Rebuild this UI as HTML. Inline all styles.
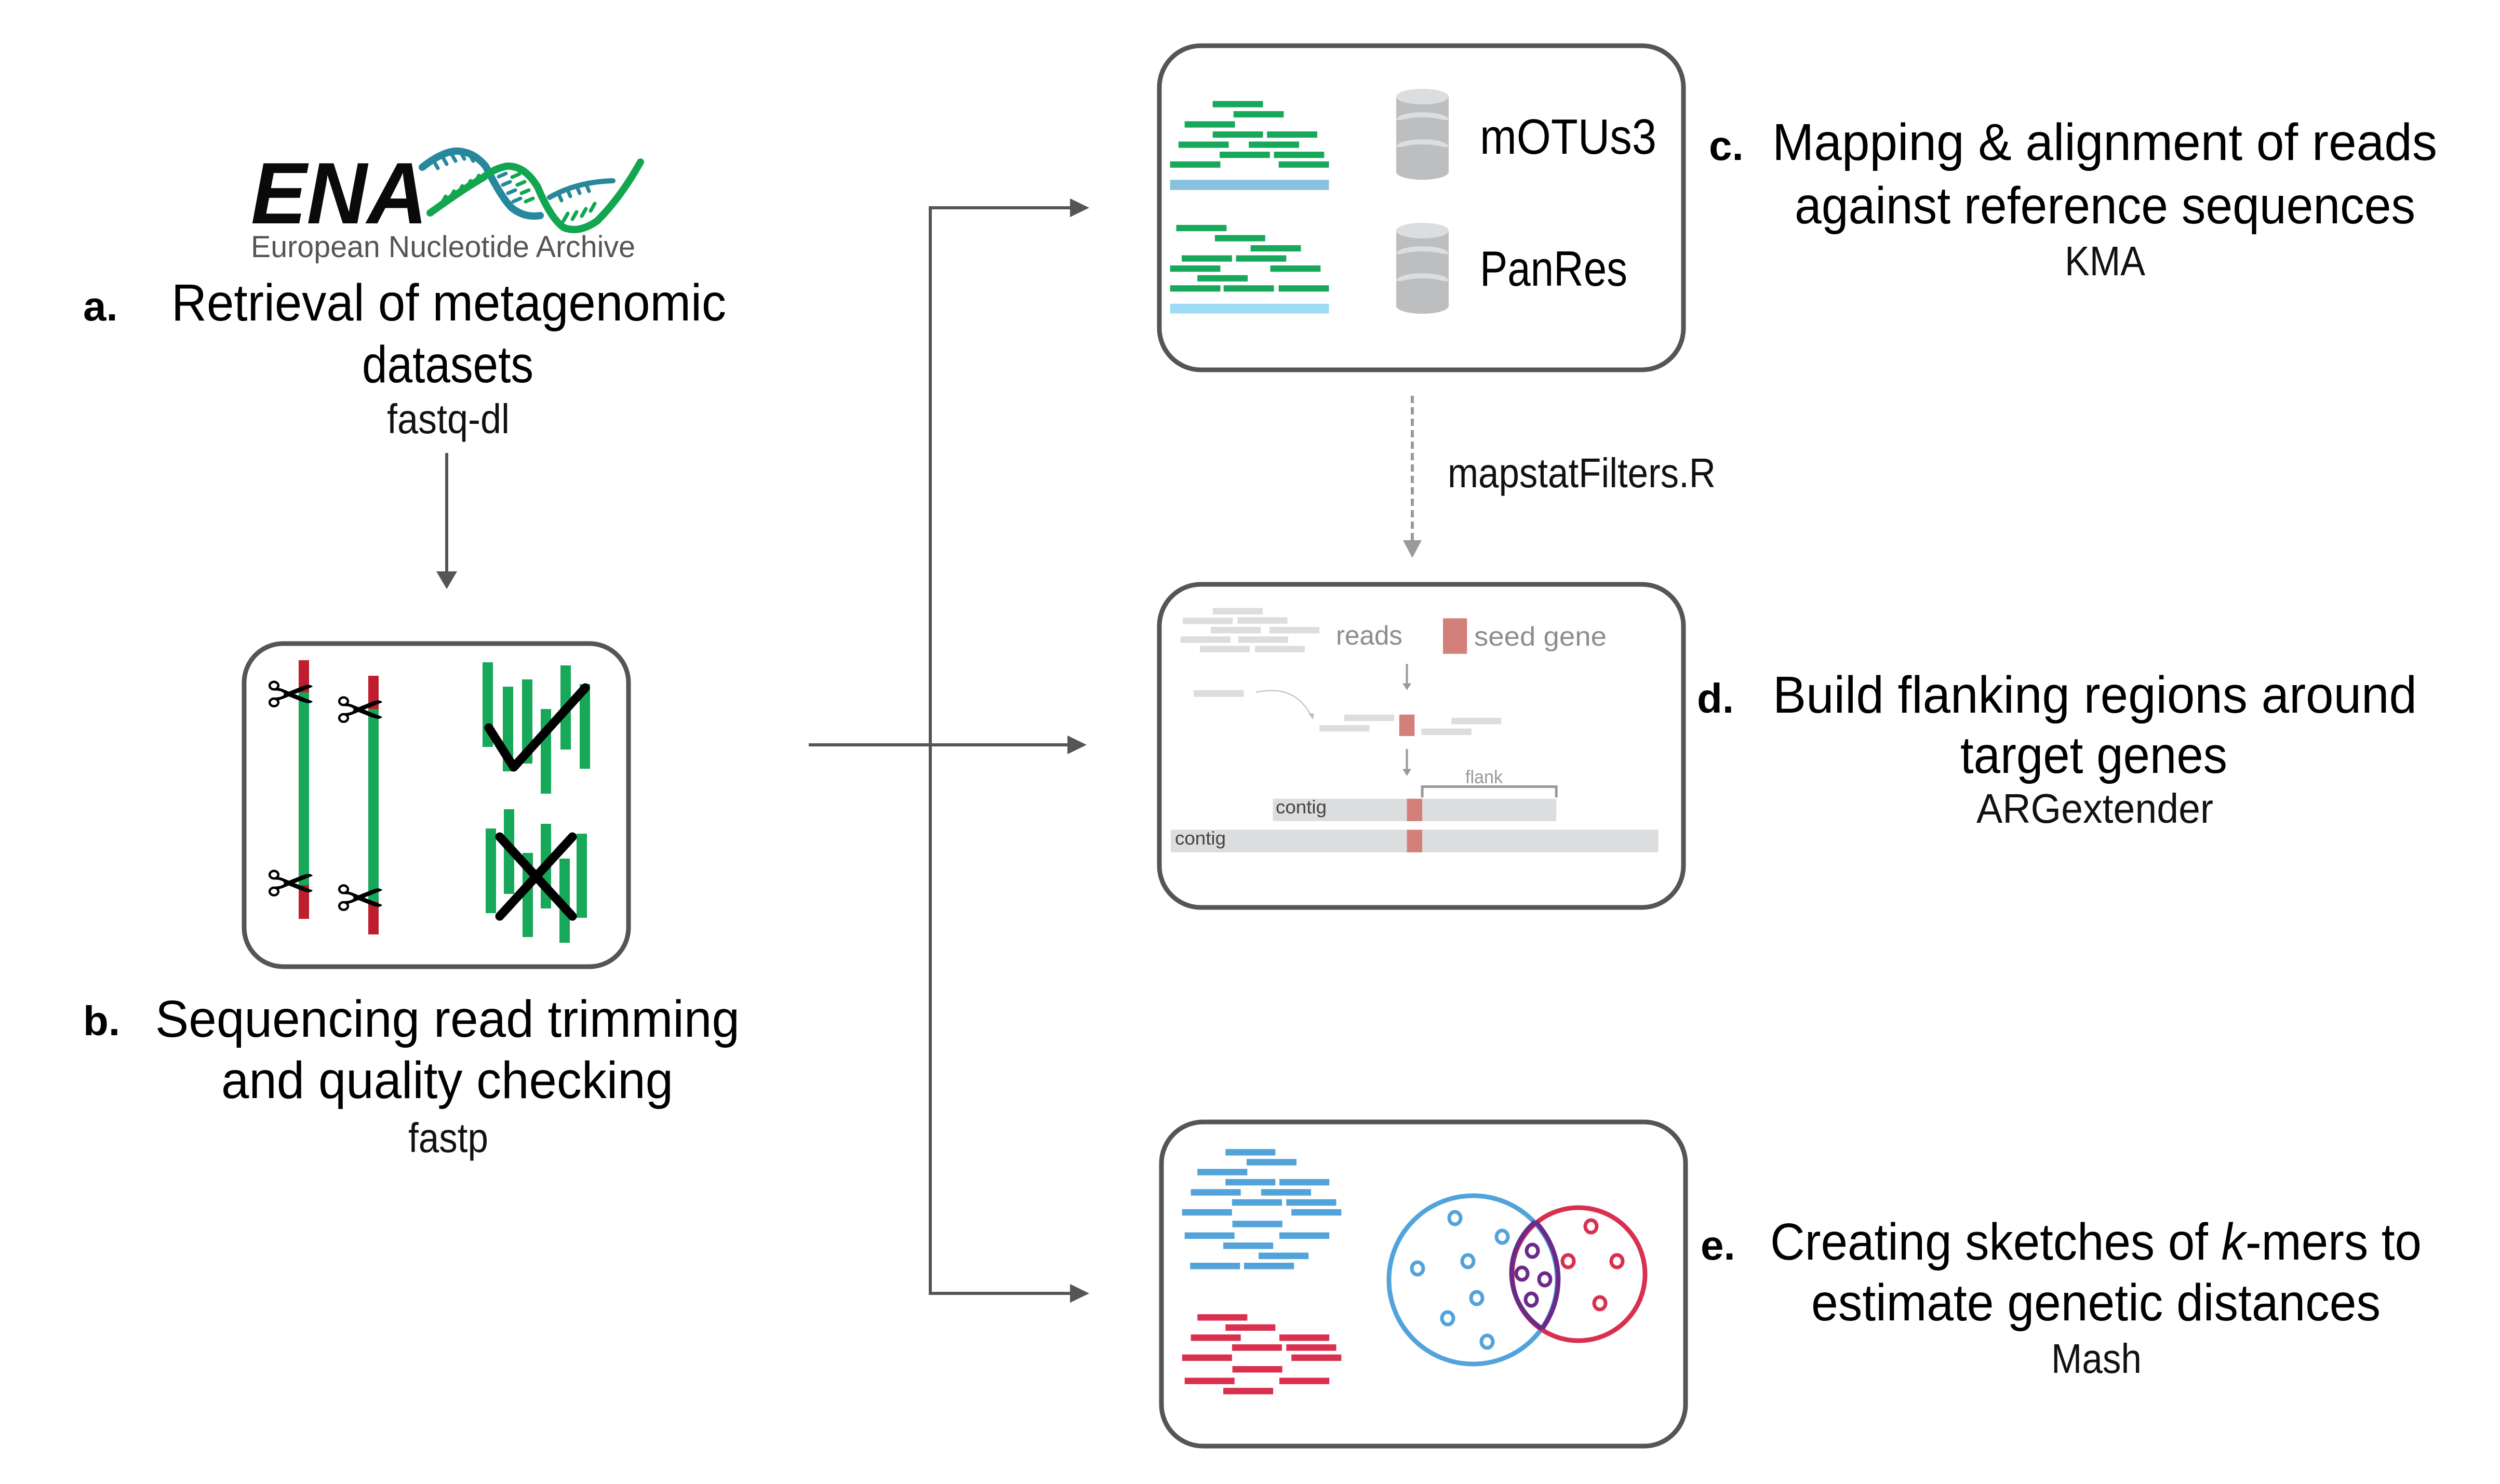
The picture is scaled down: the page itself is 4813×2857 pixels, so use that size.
<!DOCTYPE html>
<html><head><meta charset="utf-8"><style>
html,body{margin:0;padding:0;background:#fff;}
svg{display:block;}
text{font-family:"Liberation Sans","DejaVu Sans",sans-serif;}
</style></head><body>
<svg width="4813" height="2857" viewBox="0 0 4813 2857" xmlns="http://www.w3.org/2000/svg">
<rect width="4813" height="2857" fill="#fff"/>

<!-- ENA logo -->
<text x="483" y="430" font-size="168" font-weight="bold" font-style="italic" textLength="340" lengthAdjust="spacingAndGlyphs" fill="#0a0a0a">ENA</text>
<g fill="none" stroke-linecap="round" stroke-width="14">
<path d="M813,322 Q860,285 890,292 Q915,296 935,320 Q965,380 985,400 Q1010,420 1040,415" stroke="#27879b"/>
<path d="M1058,380 Q1110,350 1180,348" stroke="#27879b" stroke-width="10"/>
<path d="M828,410 Q890,365 930,342 Q950,325 975,320 Q1010,318 1035,360 Q1060,420 1085,438 Q1115,450 1150,425 Q1195,380 1233,312" stroke="#12a650"/>
</g>
<g stroke-width="7" stroke-linecap="round">
<path d="M835,310 l8,14 M852,302 l8,14 M869,296 l8,14 M886,292 l8,14 M903,296 l8,14" stroke="#27879b"/>
<path d="M850,392 l8,-14 M866,382 l8,-14 M882,372 l8,-14 M898,362 l8,-14 M914,352 l8,-14" stroke="#12a650"/>
<path d="M960,340 l14,-6 M968,356 l14,-6 M978,372 l14,-6 M988,388 l14,-6" stroke="#27879b"/>
<path d="M1000,335 l-14,6 M1010,350 l-14,6 M1018,366 l-14,6 M1026,382 l-14,6" stroke="#12a650"/>
<path d="M1075,372 l6,14 M1092,364 l6,14 M1110,358 l6,14 M1128,354 l6,14" stroke="#27879b"/>
<path d="M1085,425 l8,-14 M1102,422 l8,-14 M1120,416 l8,-14 M1137,406 l8,-14" stroke="#12a650"/>
</g>
<text x="483" y="495" font-size="58" fill="#555" textLength="740" lengthAdjust="spacingAndGlyphs">European Nucleotide Archive</text>

<!-- a. text -->
<text x="160" y="617" font-size="80" font-weight="bold" fill="#000">a.</text>
<text x="330" y="617" font-size="100" fill="#000" textLength="1068" lengthAdjust="spacingAndGlyphs">Retrieval of metagenomic</text>
<text x="697" y="736" font-size="100" fill="#000" textLength="330" lengthAdjust="spacingAndGlyphs">datasets</text>
<text x="745" y="834" font-size="80" fill="#111" textLength="236" lengthAdjust="spacingAndGlyphs">fastq-dl</text>

<!-- arrow a->b -->
<line x1="860" y1="872" x2="860" y2="1105" stroke="#555" stroke-width="6"/>
<polygon points="840,1100 880,1100 860,1134" fill="#555"/>

<!-- box b -->
<rect x="470" y="1239" width="740" height="622" rx="75" fill="none" stroke="#555" stroke-width="9"/>
<g>
<rect x="575" y="1271" width="20" height="498" fill="#17a85a"/>
<rect x="575" y="1271" width="20" height="62" fill="#be1e2d"/>
<rect x="575" y="1704" width="20" height="65" fill="#be1e2d"/>
<rect x="709" y="1301" width="20" height="498" fill="#17a85a"/>
<rect x="709" y="1301" width="20" height="64" fill="#be1e2d"/>
<rect x="709" y="1736" width="20" height="63" fill="#be1e2d"/>
</g>
<g font-family="DejaVu Sans" font-size="115" fill="#000">
<text x="512" y="1378">✂</text>
<text x="646" y="1408">✂</text>
<text x="512" y="1742">✂</text>
<text x="646" y="1770">✂</text>
</g>
<g fill="#17a85a">
<rect x="929" y="1275" width="20" height="163"/>
<rect x="968" y="1322" width="20" height="163"/>
<rect x="1005" y="1308" width="20" height="162"/>
<rect x="1041" y="1365" width="20" height="163"/>
<rect x="1079" y="1281" width="20" height="162"/>
<rect x="1116" y="1317" width="20" height="163"/>
<rect x="935" y="1595" width="20" height="163"/>
<rect x="970" y="1558" width="20" height="163"/>
<rect x="1006" y="1642" width="20" height="162"/>
<rect x="1041" y="1586" width="20" height="163"/>
<rect x="1077" y="1653" width="20" height="162"/>
<rect x="1110" y="1605" width="20" height="162"/>
</g>
<polyline points="941,1401 989,1477 1127,1324" fill="none" stroke="#000" stroke-width="17" stroke-linecap="round" stroke-linejoin="round"/>
<line x1="962" y1="1611" x2="1102" y2="1764" stroke="#000" stroke-width="17" stroke-linecap="round"/>
<line x1="1102" y1="1611" x2="962" y2="1764" stroke="#000" stroke-width="17" stroke-linecap="round"/>

<!-- b. text -->
<text x="160" y="1993" font-size="80" font-weight="bold" fill="#000">b.</text>
<text x="299" y="1996" font-size="100" fill="#000" textLength="1125" lengthAdjust="spacingAndGlyphs">Sequencing read trimming</text>
<text x="426" y="2114" font-size="100" fill="#000" textLength="870" lengthAdjust="spacingAndGlyphs">and quality checking</text>
<text x="786" y="2218" font-size="80" fill="#111" textLength="154" lengthAdjust="spacingAndGlyphs">fastp</text>

<!-- connectors -->
<g stroke="#555" stroke-width="6" fill="none">
<line x1="1791" y1="400" x2="1791" y2="2493"/>
<line x1="1788" y1="400" x2="2070" y2="400"/>
<line x1="1557" y1="1434" x2="2065" y2="1434"/>
<line x1="1788" y1="2490" x2="2070" y2="2490"/>
</g>
<g fill="#555">
<polygon points="2060,382 2097,400 2060,418"/>
<polygon points="2055,1416 2092,1434 2055,1452"/>
<polygon points="2060,2472 2097,2490 2060,2508"/>
</g>

<!-- box c -->
<rect x="2232" y="88" width="1009" height="624" rx="80" fill="none" stroke="#555" stroke-width="9"/>
<g transform="translate(2200,60) scale(0.7015,0.4337)" fill="#17a85a">
<rect x="192" y="310" width="138" height="28"/><rect x="249" y="355" width="138" height="28"/>
<rect x="115" y="400" width="138" height="28"/><rect x="192" y="445" width="138" height="28"/>
<rect x="341" y="445" width="138" height="28"/><rect x="98" y="490" width="138" height="28"/>
<rect x="291" y="490" width="138" height="28"/><rect x="211" y="535" width="138" height="28"/>
<rect x="360" y="535" width="138" height="28"/><rect x="75" y="578" width="138" height="28"/>
<rect x="373" y="578" width="138" height="28"/>
<rect x="75" y="660" width="436" height="45" fill="#89c2df"/>
<rect x="92" y="860" width="138" height="28"/><rect x="198" y="905" width="138" height="28"/>
<rect x="296" y="950" width="138" height="28"/><rect x="107" y="995" width="138" height="28"/>
<rect x="256" y="995" width="138" height="28"/><rect x="75" y="1040" width="138" height="28"/>
<rect x="350" y="1040" width="138" height="28"/><rect x="150" y="1083" width="138" height="28"/>
<rect x="75" y="1128" width="138" height="28"/><rect x="222" y="1128" width="138" height="28"/>
<rect x="373" y="1128" width="138" height="28"/>
<rect x="75" y="1210" width="436" height="43" fill="#9ddcf6"/>
</g>
<!-- cylinders -->
<g>
<rect x="2688" y="186" width="101" height="145" fill="#bdbebf"/>
<ellipse cx="2738.5" cy="331" rx="50.5" ry="15" fill="#bdbebf"/>
<ellipse cx="2738.5" cy="283" rx="50.5" ry="15" fill="#dcdddf"/>
<rect x="2688" y="283" width="101" height="8" fill="#bdbebf"/>
<ellipse cx="2738.5" cy="291" rx="50.5" ry="13" fill="#bdbebf"/>
<ellipse cx="2738.5" cy="231" rx="50.5" ry="15" fill="#dcdddf"/>
<rect x="2688" y="231" width="101" height="8" fill="#bdbebf"/>
<ellipse cx="2738.5" cy="239" rx="50.5" ry="13" fill="#bdbebf"/>
<ellipse cx="2738.5" cy="186" rx="50.5" ry="15" fill="#dcdddf"/>

<rect x="2688" y="444" width="101" height="145" fill="#bdbebf"/>
<ellipse cx="2738.5" cy="589" rx="50.5" ry="15" fill="#bdbebf"/>
<ellipse cx="2738.5" cy="541" rx="50.5" ry="15" fill="#dcdddf"/>
<rect x="2688" y="541" width="101" height="8" fill="#bdbebf"/>
<ellipse cx="2738.5" cy="549" rx="50.5" ry="13" fill="#bdbebf"/>
<ellipse cx="2738.5" cy="489" rx="50.5" ry="15" fill="#dcdddf"/>
<rect x="2688" y="489" width="101" height="8" fill="#bdbebf"/>
<ellipse cx="2738.5" cy="497" rx="50.5" ry="13" fill="#bdbebf"/>
<ellipse cx="2738.5" cy="444" rx="50.5" ry="15" fill="#dcdddf"/>
</g>
<text x="2849" y="296" font-size="96" fill="#000" textLength="340" lengthAdjust="spacingAndGlyphs">mOTUs3</text>
<text x="2849" y="550" font-size="96" fill="#000" textLength="284" lengthAdjust="spacingAndGlyphs">PanRes</text>

<!-- c. text -->
<text x="3290" y="308" font-size="80" font-weight="bold" fill="#000">c.</text>
<text x="3412" y="308" font-size="100" fill="#000" textLength="1280" lengthAdjust="spacingAndGlyphs">Mapping &amp; alignment of reads</text>
<text x="3455" y="430" font-size="100" fill="#000" textLength="1195" lengthAdjust="spacingAndGlyphs">against reference sequences</text>
<text x="3975" y="530" font-size="80" fill="#111" textLength="155" lengthAdjust="spacingAndGlyphs">KMA</text>

<!-- dashed arrow -->
<line x1="2719" y1="762" x2="2719" y2="1045" stroke="#9a9a9a" stroke-width="6" stroke-dasharray="14,8"/>
<polygon points="2701,1040 2737,1040 2719,1074" fill="#9a9a9a"/>
<text x="2787" y="938" font-size="80" fill="#111" textLength="516" lengthAdjust="spacingAndGlyphs">mapstatFilters.R</text>

<!-- box d -->
<rect x="2232" y="1125" width="1009" height="622" rx="80" fill="none" stroke="#555" stroke-width="9"/>
<g transform="translate(2200,1100) scale(0.7015,0.4145)">
<g fill="#dcdddf">
<rect x="192" y="170" width="137" height="30"/><rect x="110" y="215" width="137" height="30"/>
<rect x="260" y="213" width="137" height="30"/><rect x="187" y="258" width="137" height="30"/>
<rect x="348" y="258" width="137" height="30"/><rect x="104" y="302" width="137" height="30"/>
<rect x="262" y="302" width="137" height="30"/><rect x="157" y="346" width="137" height="30"/>
<rect x="308" y="346" width="137" height="30"/>
<rect x="140" y="552" width="137" height="31"/>
<rect x="553" y="665" width="137" height="30"/><rect x="485" y="714" width="137" height="30"/>
<rect x="847" y="680" width="137" height="30"/><rect x="765" y="730" width="137" height="30"/>
<rect x="357" y="1056" width="778" height="104"/>
<rect x="77" y="1200" width="1338" height="105"/>
</g>
<g fill="#d4807a">
<rect x="824" y="218" width="66" height="165"/>
<rect x="704" y="665" width="42" height="100"/>
<rect x="725" y="1056" width="42" height="104"/>
<rect x="725" y="1200" width="42" height="105"/>
</g>
<g fill="none" stroke="#999">
<line x1="725" y1="430" x2="725" y2="530" stroke-width="4" vector-effect="non-scaling-stroke"/>
<line x1="725" y1="825" x2="725" y2="930" stroke-width="4" vector-effect="non-scaling-stroke"/>
<path d="M310,562 Q420,520 465,680" stroke="#bbb" stroke-width="2" vector-effect="non-scaling-stroke"/>
<path d="M767,1050 L767,1000 L1135,1000 L1135,1050" stroke-width="5" vector-effect="non-scaling-stroke"/>
</g>
<polygon points="713,520 737,520 725,552" fill="#999"/>
<polygon points="713,918 737,918 725,950" fill="#999"/>
<polygon points="455,660 470,660 467,688" fill="#bbb"/>
</g>
<text x="2572" y="1241" font-size="52" fill="#8d8d8d" textLength="128" lengthAdjust="spacingAndGlyphs">reads</text>
<text x="2838" y="1243" font-size="52" fill="#8d8d8d" textLength="255" lengthAdjust="spacingAndGlyphs">seed gene</text>
<text x="2821" y="1508" font-size="36" fill="#999" textLength="72" lengthAdjust="spacingAndGlyphs">flank</text>
<text x="2456" y="1566" font-size="36" fill="#444" textLength="98" lengthAdjust="spacingAndGlyphs">contig</text>
<text x="2262" y="1626" font-size="36" fill="#444" textLength="98" lengthAdjust="spacingAndGlyphs">contig</text>

<!-- d. text -->
<text x="3267" y="1372" font-size="80" font-weight="bold" fill="#000">d.</text>
<text x="3413" y="1372" font-size="100" fill="#000" textLength="1240" lengthAdjust="spacingAndGlyphs">Build flanking regions around</text>
<text x="3774" y="1488" font-size="100" fill="#000" textLength="514" lengthAdjust="spacingAndGlyphs">target genes</text>
<text x="3805" y="1584" font-size="80" fill="#111" textLength="456" lengthAdjust="spacingAndGlyphs">ARGextender</text>

<!-- box e -->
<rect x="2236" y="2160" width="1009" height="624" rx="80" fill="none" stroke="#555" stroke-width="9"/>
<g transform="translate(2200,2150) scale(0.7015,0.4145)">
<g fill="#52a3da">
<rect x="227" y="150" width="137" height="30"/><rect x="285" y="196" width="137" height="30"/>
<rect x="150" y="242" width="137" height="30"/><rect x="227" y="289" width="137" height="30"/>
<rect x="375" y="289" width="137" height="30"/><rect x="132" y="336" width="137" height="30"/>
<rect x="325" y="336" width="137" height="30"/><rect x="245" y="383" width="137" height="30"/>
<rect x="394" y="383" width="137" height="30"/><rect x="108" y="429" width="137" height="30"/>
<rect x="408" y="429" width="137" height="30"/><rect x="246" y="483" width="137" height="30"/>
<rect x="115" y="537" width="137" height="30"/><rect x="375" y="537" width="137" height="30"/>
<rect x="221" y="584" width="137" height="30"/><rect x="318" y="631" width="137" height="30"/>
<rect x="130" y="678" width="137" height="30"/><rect x="278" y="678" width="137" height="30"/>
</g>
<g fill="#d93050">
<rect x="150" y="917" width="137" height="30"/><rect x="227" y="964" width="137" height="30"/>
<rect x="132" y="1011" width="137" height="30"/><rect x="375" y="1011" width="137" height="30"/>
<rect x="245" y="1057" width="137" height="30"/><rect x="394" y="1057" width="137" height="30"/>
<rect x="108" y="1104" width="137" height="30"/><rect x="408" y="1104" width="137" height="30"/>
<rect x="246" y="1158" width="137" height="30"/><rect x="115" y="1212" width="137" height="30"/>
<rect x="375" y="1212" width="137" height="30"/><rect x="221" y="1259" width="137" height="30"/>
</g>
</g>
<circle cx="2836" cy="2464" r="162" fill="none" stroke="#52a3da" stroke-width="9"/>
<circle cx="3039" cy="2453" r="128" fill="none" stroke="#d93050" stroke-width="9"/>
<path d="M2956,2352 A162,162 0 0 1 2969,2558" fill="none" stroke="#6a2a8a" stroke-width="9"/>
<path d="M2956,2352 A128,128 0 0 0 2969,2558" fill="none" stroke="#6a2a8a" stroke-width="9"/>
<g fill="none" stroke-width="7">
<g stroke="#52a3da">
<ellipse cx="2801" cy="2345" rx="11" ry="12"/><ellipse cx="2892" cy="2381" rx="11" ry="12"/>
<ellipse cx="2826" cy="2428" rx="11" ry="12"/><ellipse cx="2729" cy="2442" rx="11" ry="12"/>
<ellipse cx="2843" cy="2499" rx="11" ry="12"/><ellipse cx="2787" cy="2538" rx="11" ry="12"/>
<ellipse cx="2863" cy="2583" rx="11" ry="12"/>
</g>
<g stroke="#6a2a8a">
<ellipse cx="2950" cy="2408" rx="11" ry="12"/><ellipse cx="2930" cy="2452" rx="11" ry="12"/>
<ellipse cx="2974" cy="2463" rx="11" ry="12"/><ellipse cx="2948" cy="2502" rx="11" ry="12"/>
</g>
<g stroke="#d93050">
<ellipse cx="3063" cy="2361" rx="11" ry="12"/><ellipse cx="3019" cy="2428" rx="11" ry="12"/>
<ellipse cx="3113" cy="2428" rx="11" ry="12"/><ellipse cx="3080" cy="2509" rx="11" ry="12"/>
</g>
</g>

<!-- e. text -->
<text x="3274" y="2425" font-size="80" font-weight="bold" fill="#000">e.</text>
<text x="3408" y="2425" font-size="100" fill="#000" textLength="1254" lengthAdjust="spacingAndGlyphs">Creating sketches of <tspan font-style="italic">k</tspan>-mers to</text>
<text x="3487" y="2542" font-size="100" fill="#000" textLength="1096" lengthAdjust="spacingAndGlyphs">estimate genetic distances</text>
<text x="3949" y="2643" font-size="80" fill="#111" textLength="174" lengthAdjust="spacingAndGlyphs">Mash</text>
</svg>
</body></html>
